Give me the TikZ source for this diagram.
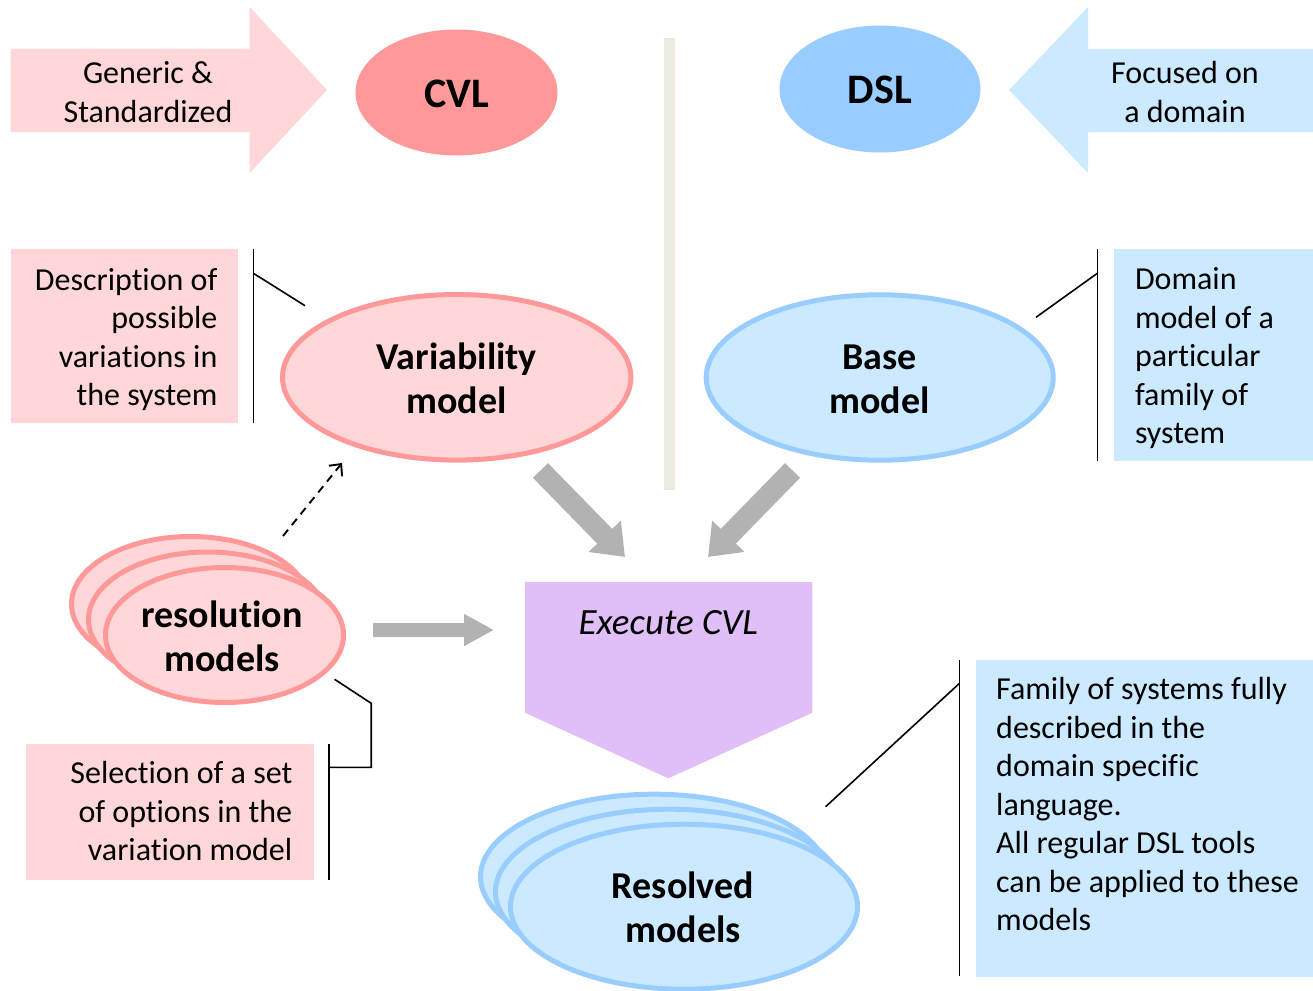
\documentclass[tikz,border=0pt]{standalone}
\usepackage{fontspec}
\setmainfont{Carlito}[Ligatures=NoCommon]
\usetikzlibrary{shapes.geometric,arrows.meta}

\definecolor{pinkfill}{HTML}{FFD7D8}
\definecolor{pinkline}{HTML}{FF9999}
\definecolor{bluefill}{HTML}{CCEAFF}
\definecolor{blueline}{HTML}{99CCFF}
\definecolor{lilac}{HTML}{E0BFF8}
\definecolor{flowgray}{HTML}{B2B2B2}
\definecolor{divider}{HTML}{EDEAE0}

\begin{document}
\begin{tikzpicture}[x=1pt,y=-1pt,
  note/.style={inner sep=0pt, font=\fontsize{32}{38.5}\selectfont},
  title/.style={inner sep=0pt, font=\fontsize{42}{48}\selectfont\bfseries},
  model/.style={ellipse, inner sep=0pt, line width=5pt},
  modeltext/.style={inner sep=0pt, align=center,
                    font=\fontsize{38}{44}\selectfont\bfseries},
  pinkmodel/.style={model, fill=pinkfill, draw=pinkline},
  bluemodel/.style={model, fill=bluefill, draw=blueline},
  panel/.style={inner sep=0pt, anchor=north west},
  callout/.style={black, line width=1.6pt},
  flow/.style={flowgray, line width=21pt, -{Triangle[length=29pt,width=43pt]}},
]
\useasboundingbox (0,0) rectangle (1313,990);

% ---- top row: the two languages ----
\fill[pinkfill] (10.5,49) -- (249.6,49) -- (249.6,7) -- (327,90)
  -- (249.6,173) -- (249.6,132) -- (10.5,132) -- cycle;
\node[note, align=center] (generic) at (148,95.5) {\strut Generic \&\\\strut Standardized};
\node[title, ellipse, fill=pinkline, minimum width=202pt, minimum height=126pt] (cvl)
  at (456.5,92.5) {};
\node[title] (cvltext) at ([yshift=-1.5pt]cvl.center) {CVL};

\fill[bluefill] (1313,49) -- (1088,49) -- (1088,7) -- (1009,90)
  -- (1088,173) -- (1088,132) -- (1313,132) -- cycle;
\node[note, align=center] (focused) at (1185,95.5) {\strut Focused on\\\strut a domain};
\node[title, ellipse, fill=blueline, minimum width=201pt, minimum height=127pt] (dsl)
  at (880,89) {};
\node[title] (dsltext) at ([yshift=-1pt]dsl.center) {DSL};

% divider between the CVL side and the DSL side
\fill[divider] (663.5,38) rectangle (674.5,490);

% ---- variability model and its note ----
\node[panel, fill=pinkfill, minimum width=227.5pt, minimum height=174pt] (descbox) at (10.5,249) {};
\node[note, align=right, anchor=east] (desctext) at (217.6,340.5)
  {\strut Description of\\\strut possible\\\strut variations in\\\strut the system};
\node[pinkmodel, minimum width=348.4pt, minimum height=165.6pt] (var) at (456.7,377.3) {};
\node[modeltext] (vartext) at ([yshift=-5pt]var.center) {\strut Variability\\\strut model};
\coordinate (descbarT) at (253.4,249);
\coordinate (descbarB) at (253.4,423);
\coordinate (descknee) at (253.4,273.3);
\coordinate (descend) at (305,305.7);
\draw[callout] (descbarT) -- (descbarB);
\draw[callout] (descknee) -- (descend);

% ---- base model and its note ----
\node[bluemodel, minimum width=347pt, minimum height=165.4pt] (base) at (879.7,377.5) {};
\node[modeltext] (basetext) at ([yshift=-5pt]base.center) {\strut Base\\\strut model};
\node[panel, fill=bluefill, minimum width=199pt, minimum height=212pt] (domainbox) at (1114,249) {};
\node[note, align=left, anchor=west] (domaintext) at (1134.8,359)
  {\strut Domain\\\strut model of a\\\strut particular\\\strut family of\\\strut system};
\coordinate (dombarT) at (1097.3,249);
\coordinate (dombarB) at (1097.3,461);
\coordinate (domknee) at (1097.3,273.3);
\coordinate (domend) at (1036,317.3);
\draw[callout] (dombarT) -- (dombarB);
\draw[callout] (domknee) -- (domend);

% ---- resolution models (stacked) ----
\node[pinkmodel, minimum width=238pt, minimum height=135pt] (res3) at (190.5,604) {};
\node[pinkmodel, minimum width=238pt, minimum height=135pt] (res2) at (207.5,619.5) {};
\node[pinkmodel, minimum width=238pt, minimum height=135pt] (res) at (224.5,635) {};
\node[modeltext] (restext) at (222,641) {\strut resolution\\\strut models};

\coordinate (dashS) at (283,536);
\coordinate (dashE) at (342,463);
\draw[black, line width=1.9pt, dash pattern=on 8pt off 6pt,
  -{Straight Barb[length=9pt,width=17pt]}] (dashS) -- (dashE);

\node[panel, fill=pinkfill, minimum width=288pt, minimum height=136pt] (selbox) at (26,744) {};
\node[note, align=right, anchor=east] (seltext) at (292.5,814.5)
  {\strut Selection of a set\\\strut of options in the\\\strut variation model};
\coordinate (selbarT) at (329,744);
\coordinate (selbarB) at (329,880);
\coordinate (selknee1) at (329,767.3);
\coordinate (selknee2) at (371.2,767.3);
\coordinate (selknee3) at (371.2,703.3);
\coordinate (selend) at (334.6,679.3);
\draw[callout] (selbarT) -- (selbarB);
\draw[callout] (selknee1) -- (selknee2) -- (selknee3) -- (selend);

% ---- execution step ----
\fill[lilac] (525,582) -- (812.3,582) -- (812.3,712.7) -- (668.3,778.3)
  -- (525,712.7) -- cycle;
\node[inner sep=0pt, font=\fontsize{37}{44}\selectfont\itshape] (exec) at (668.3,622.5) {Execute CVL};

\coordinate (varout) at (540.5,470.5);
\coordinate (execinL) at (625,557);
\coordinate (baseout) at (792.5,470.5);
\coordinate (execinR) at (708,557);
\coordinate (resout) at (373,630);
\coordinate (execinW) at (494,630);
\draw[flow] (varout) -- (execinL);
\draw[flow] (baseout) -- (execinR);
\draw[flow, line width=14pt, -{Triangle[length=30pt,width=30pt]}] (resout) -- (execinW);

% ---- resolved models (stacked) ----
\node[bluemodel, minimum width=347pt, minimum height=165pt] (rsv3) at (654,876.7) {};
\node[bluemodel, minimum width=347pt, minimum height=165pt] (rsv2) at (669,891.7) {};
\node[bluemodel, minimum width=347pt, minimum height=165pt] (rsv) at (684,906.7) {};
\node[modeltext] (rsvtext) at (683,912) {\strut Resolved\\\strut models};

\node[panel, fill=bluefill, minimum width=337pt, minimum height=317.5pt] (familybox) at (976,659.3) {};
\node[note, align=left, anchor=west] (familytext) at (996,807.5)
  {\strut Family of systems fully\\\strut described in the\\\strut domain specific\\\strut language.\\
   \strut All regular DSL tools\\\strut can be applied to these\\\strut models};
\coordinate (fambarT) at (959.5,660);
\coordinate (fambarB) at (959.5,976);
\coordinate (famknee) at (959.5,683.3);
\coordinate (famend) at (825.6,806.7);
\draw[callout] (fambarT) -- (fambarB);
\draw[callout] (famknee) -- (famend);
\end{tikzpicture}
\end{document}
